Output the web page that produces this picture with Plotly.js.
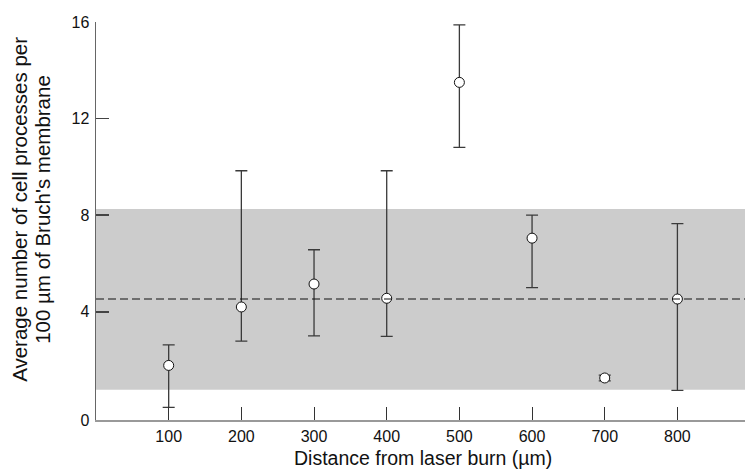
<!DOCTYPE html>
<html>
<head>
<meta charset="utf-8">
<script src="https://cdn.plot.ly/plotly-3.0.1.min.js"></script>
<style>html,body{margin:0;padding:0;background:#fff;}#chart{width:745px;height:469px;}</style>
</head>
<body>
<div id="chart"></div>
<script>
// Data
const distances = [100, 200, 300, 400, 500, 600, 700, 800];
const means     = [1.78, 4.20, 5.15, 4.56, 13.50, 7.05, 1.26, 4.53];
const upperEnds = [2.63, 9.84, 6.57, 9.84, 15.88, 8.00, 1.38, 7.65];
const lowerEnds = [0.04, 2.79, 3.00, 2.98, 10.81, 5.00, 1.14, 0.75];
const bandLow = 0.77;
const bandHigh = 8.26;
const overallMean = 4.53;
const xTickVals = [100, 200, 300, 400, 500, 600, 700, 800];
const yTickLabels = ['0', '4', '8', '12', '16'];
const yTickVals = [-0.48, 4, 8, 12, 16];
const xTitle = 'Distance from laser burn (µm)';
const yTitleLines = ['Average number of cell processes per', '100 µm of Bruch\'s membrane'];

const errPlus = upperEnds.map((u, i) => +(u - means[i]).toFixed(3));
const errMinus = lowerEnds.map((l, i) => +(means[i] - l).toFixed(3));

const FONT = '"Liberation Sans", Arial, Helvetica, sans-serif';

const trace = {
  x: distances,
  y: means,
  type: 'scatter',
  mode: 'markers',
  marker: {symbol: 'circle', size: 10, color: '#ffffff', line: {color: '#111', width: 1}},
  error_y: {
    type: 'data', symmetric: false,
    array: errPlus, arrayminus: errMinus,
    color: '#3a3a3a', thickness: 1.3, width: 6
  },
  hoverinfo: 'x+y',
  showlegend: false
};

const layout = {
  width: 745, height: 469,
  margin: {l: 96, r: 0, t: 22, b: 49, pad: 0},
  paper_bgcolor: '#fff', plot_bgcolor: 'rgba(0,0,0,0)',
  font: {family: FONT, size: 16, color: '#111'},
  xaxis: {
    range: [0, 893],
    tickvals: xTickVals,
    ticks: 'inside', ticklen: 13, tickwidth: 1, tickcolor: '#333',
    showline: true, linecolor: '#999', linewidth: 1.5,
    showgrid: false, zeroline: false,
    ticklabelstandoff: 1,
    tickfont: {family: FONT, size: 16, color: '#111'}
  },
  yaxis: {
    range: [-0.48, 16],
    tickvals: yTickVals, ticktext: yTickLabels,
    ticks: 'inside', ticklen: 13, tickwidth: 1.5, tickcolor: '#444',
    showline: true, linecolor: '#666', linewidth: 1.5,
    showgrid: false, zeroline: false,
    ticklabelstandoff: 2,
    tickfont: {family: FONT, size: 16, color: '#111'}
  },
  annotations: [
    {text: xTitle, xref: 'paper', yref: 'paper', x: 0.5, y: 0, xanchor: 'center', yanchor: 'top',
     yshift: -25, xshift: 2, showarrow: false, font: {family: FONT, size: 19.5, color: '#111'}},
    {text: yTitleLines[0], xref: 'paper', yref: 'paper', x: 0, y: 0.528, xanchor: 'center', yanchor: 'middle',
     xshift: -76, textangle: -90, showarrow: false, font: {family: FONT, size: 20.5, color: '#111'}},
    {text: yTitleLines[1], xref: 'paper', yref: 'paper', x: 0, y: 0.528, xanchor: 'center', yanchor: 'middle',
     xshift: -53, textangle: -90, showarrow: false, font: {family: FONT, size: 20.5, color: '#111'}}
  ],
  shapes: [
    {type: 'rect', xref: 'paper', yref: 'y', x0: 0, x1: 1, y0: bandLow, y1: bandHigh,
     fillcolor: '#cccccc', line: {width: 0}, layer: 'below'},
    {type: 'line', xref: 'paper', yref: 'y', x0: 0, x1: 1, y0: overallMean, y1: overallMean,
     line: {color: '#111', width: 1.2, dash: '8px,4px'}, layer: 'above'}
  ]
};

Plotly.newPlot('chart', [trace], layout, {displayModeBar: false, staticPlot: true});
</script>
</body>
</html>
